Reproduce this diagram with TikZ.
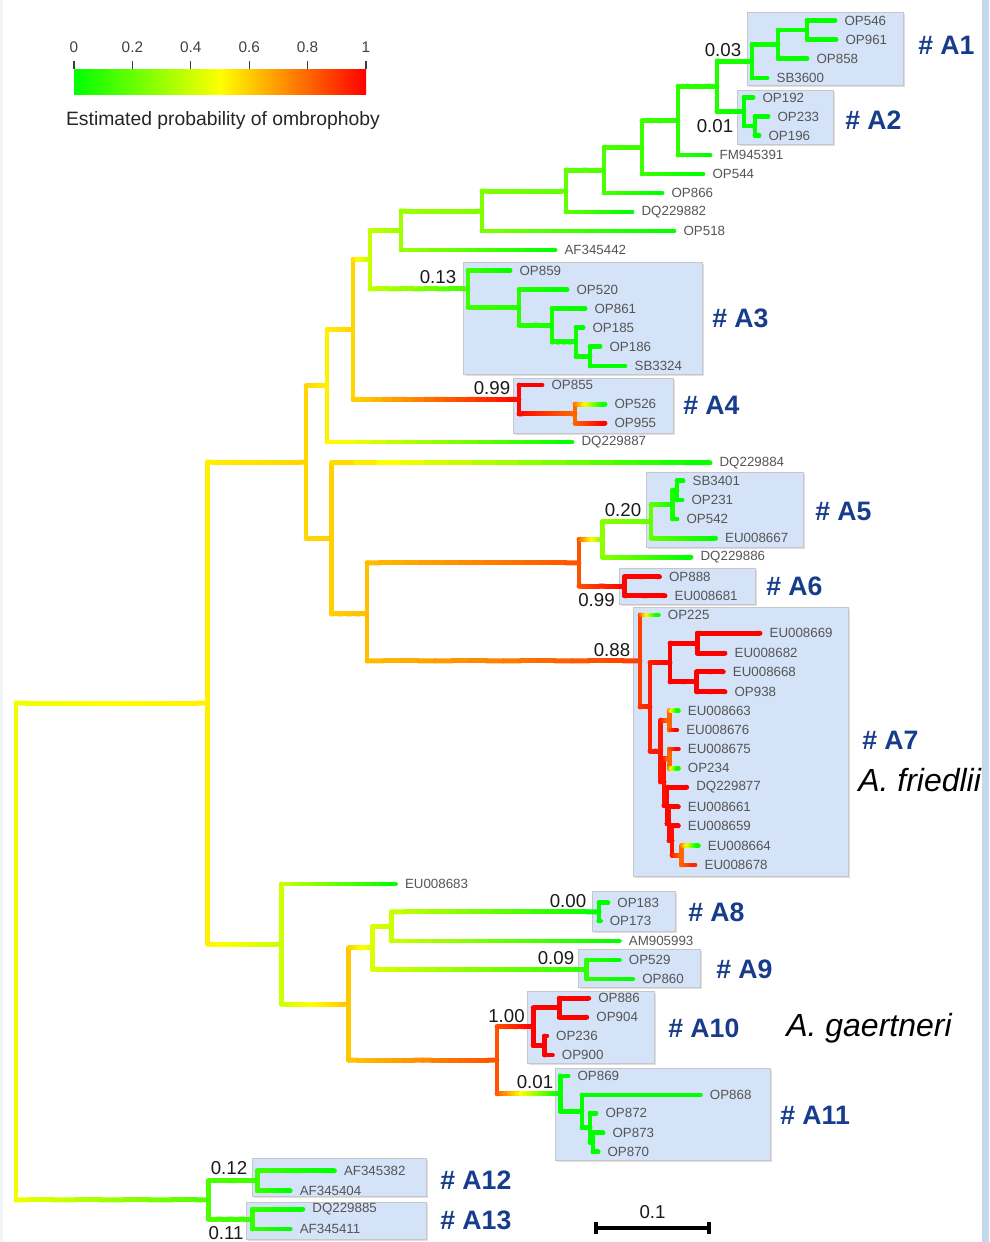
\documentclass[tikz,border=0pt]{standalone}
\usepackage{fontspec}
\setmainfont{Liberation Sans}
\usepackage{tikz}
\usetikzlibrary{arrows.meta,positioning,calc,shadows}
\usepackage{xcolor}
\definecolor{boxblue}{RGB}{213,227,248}
\definecolor{labblue}{RGB}{24,60,140}
\definecolor{taxgray}{RGB}{85,85,85}
\definecolor{edgeblue}{RGB}{196,216,236}

% colour of a probability: green (0) - yellow (0.5) - red (1)
\newcommand{\probcol}[1]{%
  \pgfmathsetmacro\pcr{min(1,2*(#1))}%
  \pgfmathsetmacro\pcg{min(1,2-2*(#1))}%
  \definecolor{segc}{rgb}{\pcr,\pcg,0}}
% branch from parent #1 to child #2, probabilities #3 -> #4
\newcommand{\br}[4]{%
  \coordinate (elbow) at (#1 |- #2);
  \probcol{#3}
  \draw[branch, segc] (#1) -- (elbow);
  \foreach \k in {0,...,15}{
    \pgfmathsetmacro\pmid{#3+(#4-#3)*(\k+0.5)/16}
    \probcol{\pmid}
    \draw[branch, segc] ($(elbow)!{\k/16}!(#2)$) -- ($(elbow)!{(\k+1)/16}!(#2)$);
  }}

\begin{document}
\begin{tikzpicture}[
  x=0.75pt, y=-0.75pt,
  branch/.style={line width=3.7pt, line cap=round},
  taxon/.style={text=taxgray, inner sep=1pt, font=\fontsize{10}{12}\selectfont},
  grp/.style={text=labblue, anchor=west, inner sep=0pt, font=\fontsize{20}{24}\selectfont\bfseries},
  species/.style={anchor=west, inner sep=0pt, font=\fontsize{24}{28}\selectfont\itshape},
  boot/.style={text=black!90, inner sep=0pt, font=\fontsize{14}{16}\selectfont},
  clade/.style={fill=boxblue, draw=black!22, line width=0.5pt,
    drop shadow={shadow xshift=1.2pt, shadow yshift=-1.2pt, opacity=0.25}},
  cbtick/.style={draw=black!75, line width=0.8pt},
  cblab/.style={text=black!75, inner sep=0pt, font=\fontsize{11.5}{13}\selectfont},
  cbtitle/.style={text=black!85, inner sep=0pt, font=\fontsize{14.5}{17}\selectfont},
  scalebar/.style={line width=2.8pt, {Bar[width=9pt]}-{Bar[width=9pt]}}
]
  \useasboundingbox (0,0) rectangle (989,1242);
  \fill[edgeblue!25] (0,0) rectangle (3,1242);
  \fill[edgeblue] (982,0) rectangle (989,1242);

  % Colour scale
  \shade[left color=green, right color=yellow] (74,69.3) rectangle (220.5,94);
  \shade[left color=yellow, right color=red] (220,69.3) rectangle (366,94);
  \foreach \v [count=\i from 0] in {0,0.2,0.4,0.6,0.8,1} {
    \draw[cbtick] ({74+58.4*\i},61) -- ({74+58.4*\i},69.3);
    \node[cblab] (cb\i) at ({74+58.4*\i},47) {\v};
  }
  \node[cbtitle] (cbt) at (223,120) {Estimated probability of ombrophoby};

  % Clade boxes
  \foreach \xa/\ya/\xb/\yb in {747/12/903/85, 737/90/833/144, 463/262/702/374,
    513/378/673/433, 646.5/472/803/547, 619/568/755/604, 633/607/848/876,
    592/891/675/931, 578/949/700/987, 527.5/991/654/1063, 555/1068/770/1160,
    252/1158/426/1196, 246/1202/426/1239}
    \draw[clade] (\xa,\ya) rectangle (\xb,\yb);

  % Tips
  \foreach \nm/\x/\y in {OP546/835/20.5, OP961/836/39.5, OP858/807/58.5, SB3600/767/78,
    OP192/753/97.5, OP233/768/116.5, OP196/759/135.5, FM945391/710/155, OP544/703/174,
    OP866/662/193, DQ229882/632/212, OP518/674/231, AF345442/555/250,
    OP859/510/270.5, OP520/567/289.5, OP861/585/308.5, OP185/583/327.5, OP186/600/346.5,
    SB3324/625/366, OP855/542/385, OP526/605/404.3, OP955/605/423.3, DQ229887/572/442,
    DQ229884/710/462.7, SB3401/683/480.7, OP231/682/500, OP542/677/519,
    EU008667/715.6/538.3, DQ229886/691/557.3, OP888/659.5/576.7, EU008681/665/595.7,
    OP225/658.3/615, EU008669/760/633.3, EU008682/725/653.3, EU008668/723.3/671.7,
    OP938/725/691.7, EU008663/678.3/710.7, EU008676/676.7/730, EU008675/678.3/749,
    OP234/678.3/768.3, DQ229877/686.7/787.3, EU008661/678.3/806.7, EU008659/678.3/825.7,
    EU008664/698.3/845.7, EU008678/695/865,
    EU008683/395.4/884, OP183/607.8/902.7, OP173/600.2/921, AM905993/619.3/941,
    OP529/619.3/960, OP860/632.7/979, OP886/588.7/998.3, OP904/586.8/1017.3,
    OP236/546.6/1036, OP900/552.3/1055, OP869/568/1076, OP868/700.3/1095,
    OP872/596/1113.3, OP873/603/1132.7, OP870/598/1151.7,
    AF345382/334.4/1170.7, AF345404/290.2/1190.7, DQ229885/302.8/1209.3, AF345411/290.2/1229} {
    \coordinate (\nm) at (\x,\y);
    \node[taxon, right=6pt of \nm] (\nm-t) {\nm};
  }

  % Inner nodes
  \foreach \n/\x/\y in {n1/807/30, n2/778/44.25, a1/752/61.1, n3/755/126, a2/744/111.75,
    n4/717/86.4, n5/678/120.7, n6/642/147.35, n7/604/170.2, n8/566/191.1, n9/482/211.05,
    n10/401/230.5, na/590/356.25, nb/576/341.9, nc/552/325.2, nd/519/307.35, a3/468/288.9,
    n11/370/259.7, ne/575/413.8, a4/519/399.4, n12/353/329.55, n13/327/385.8,
    nf/677/490.35, ng/672.5/504.7, a5/651/521.5, n18/602.5/539.4, a6/624.5/586.2,
    n17/579/562.8, nk/697.3/643.3, nl/696.7/681.7, ni/670/662.5, nm/669.3/720.35,
    nn/669.3/758.65, np/681.7/855.35, nq/672/840.5, nr/669/823.6, ns/667/805.45,
    nx/664/782, nj/660.7/751.2, nh/650/706.85, a7/640/660.9, n16/367/613.9,
    n15/331.5/538.3, n14/306/462.05, a8/599/911.85, n24/391.6/926.4, a9/586.8/969.5,
    n22/372.5/947.95, nu/559.2/1007.8, nv/544.7/1045.5, a10/533.2/1026.65, nw/593/1142.2,
    nz/590/1127.75, ny/582/1111.4, a11/560.3/1093.7, n23/497/1060.2, n21/348.7/1004.1,
    n20/281.4/944.05, n19/207.5/703.05, a12/257.4/1180.7, a13/252.4/1219.15,
    out/208.2/1199.9, root/16/951.5}
    \coordinate (\n) at (\x,\y);

  % Branches: parent/child/p(parent)/p(child)
  \foreach \a/\b/\p/\q in {n1/OP546/0.02/0, n1/OP961/0.02/0, n2/n1/0.03/0.02, n2/OP858/0.03/0,
    a1/n2/0.03/0.03, a1/SB3600/0.03/0, n3/OP233/0.01/0, n3/OP196/0.01/0,
    a2/OP192/0.01/0, a2/n3/0.01/0.01, n4/a1/0.06/0.03, n4/a2/0.06/0.01,
    n5/n4/0.09/0.06, n5/FM945391/0.09/0, n6/n5/0.12/0.09, n6/OP544/0.12/0,
    n7/n6/0.15/0.12, n7/OP866/0.15/0, n8/n7/0.19/0.15, n8/DQ229882/0.19/0,
    n9/n8/0.25/0.19, n9/OP518/0.25/0, n10/n9/0.31/0.25, n10/AF345442/0.31/0,
    na/OP186/0.02/0, na/SB3324/0.02/0, nb/OP185/0.03/0, nb/na/0.03/0.02,
    nc/OP861/0.05/0, nc/nb/0.05/0.03, nd/OP520/0.08/0, nd/nc/0.08/0.05,
    a3/OP859/0.13/0, a3/nd/0.13/0.08, n11/n10/0.39/0.31, n11/a3/0.39/0.13,
    ne/OP526/0.8/0, ne/OP955/0.8/1, a4/OP855/0.99/1, a4/ne/0.99/0.8,
    n12/n11/0.58/0.39, n12/a4/0.58/0.99, n13/n12/0.53/0.58, n13/DQ229887/0.53/0,
    nf/SB3401/0.02/0, nf/OP231/0.02/0, ng/nf/0.05/0.02, ng/OP542/0.05/0,
    a5/ng/0.2/0.05, a5/EU008667/0.2/0, n18/a5/0.27/0.2, n18/DQ229886/0.27/0,
    a6/OP888/0.99/1, a6/EU008681/0.99/1, n17/n18/0.84/0.27, n17/a6/0.84/0.99,
    nk/EU008669/1/1, nk/EU008682/1/1, nl/EU008668/1/1, nl/OP938/1/1,
    ni/nk/1/1, ni/nl/1/1, nm/EU008663/0.8/0, nm/EU008676/0.8/1,
    nn/EU008675/0.8/1, nn/OP234/0.8/0, np/EU008664/0.8/0, np/EU008678/0.8/0.93,
    nq/EU008659/0.97/1, nq/np/0.97/0.8, nr/EU008661/0.98/1, nr/nq/0.98/0.97,
    ns/DQ229877/0.99/1, ns/nr/0.99/0.98, nx/nn/0.97/0.8, nx/ns/0.97/0.99,
    nj/nm/0.96/0.8, nj/nx/0.96/0.97, nh/ni/0.94/1, nh/nj/0.94/0.96,
    a7/OP225/0.88/0, a7/nh/0.88/0.94, n16/n17/0.625/0.84, n16/a7/0.625/0.88,
    n15/DQ229884/0.59/0, n15/n16/0.59/0.625, n14/n13/0.58/0.53, n14/n15/0.58/0.59,
    a8/OP183/0/0, a8/OP173/0/0, n24/a8/0.4/0, n24/AM905993/0.4/0,
    a9/OP529/0.09/0, a9/OP860/0.09/0, n22/n24/0.43/0.4, n22/a9/0.43/0.09,
    nu/OP886/1/1, nu/OP904/1/1, nv/OP236/1/1, nv/OP900/1/1,
    a10/nu/1/1, a10/nv/1/1, nw/OP873/0.01/0, nw/OP870/0.01/0,
    nz/OP872/0.01/0, nz/nw/0.01/0.01, ny/OP868/0.01/0, ny/nz/0.01/0.01,
    a11/OP869/0.01/0, a11/ny/0.01/0.01, n23/a10/0.84/1, n23/a11/0.84/0.01,
    n21/n22/0.61/0.43, n21/n23/0.61/0.84, n20/EU008683/0.4/0, n20/n21/0.4/0.61,
    n19/n14/0.53/0.58, n19/n20/0.53/0.4,
    a12/AF345382/0.12/0, a12/AF345404/0.12/0, a13/DQ229885/0.11/0, a13/AF345411/0.11/0,
    out/a12/0.15/0.12, out/a13/0.15/0.11, root/n19/0.47/0.53, root/out/0.47/0.15}
    \br{\a}{\b}{\p}{\q};

  % Probabilities at the clades
  \foreach \v/\x/\y [count=\i] in {0.03/723/50, 0.01/715/126.5, 0.13/438/277, 0.99/492/388,
    0.20/623/510.5, 0.99/596.5/600, 0.88/612/650.5, 0.00/568/901, 0.09/556/958,
    1.00/506.5/1016, 0.01/535/1082, 0.12/229/1168, 0.11/226/1233}
    \node[boot] (bs\i) at (\x,\y) {\v};

  % Clade labels
  \foreach \g/\x/\y in {A1/918/45, A2/845/120, A3/712/318, A4/683/405, A5/815/511,
    A6/766/586, A7/862/740, A8/688/912, A9/716/969, A10/668/1028, A11/780/1115,
    A12/440/1180, A13/440/1220}
    \node[grp] (lab\g) at (\x,\y) {\# \g};
  \node[species] (fried) at (858,780) {A. friedlii};
  \node[species] (gaert) at (786,1028) {A. gaertneri};

  % Scale bar
  \coordinate (sbl) at (594,1228);
  \coordinate (sbr) at (711,1228);
  \draw[scalebar] (sbl) -- (sbr);
  \node[boot] (sblab) at ($(sbl)!0.5!(sbr)+(0,-16)$) {0.1};
\end{tikzpicture}
\end{document}
